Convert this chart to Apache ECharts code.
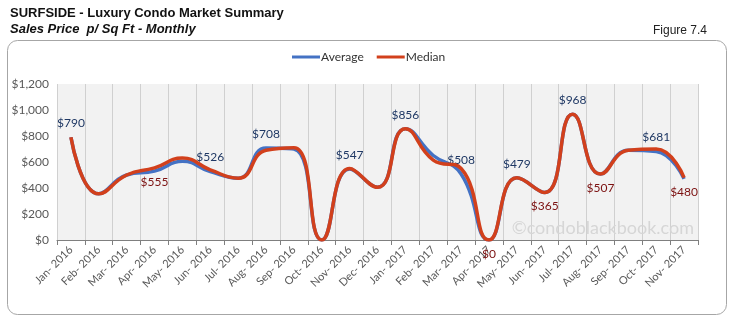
<!DOCTYPE html>
<html>
<head>
<meta charset="utf-8">
<script src="https://cdn.jsdelivr.net/npm/echarts@6/dist/echarts.min.js"></script>
<style>html,body{margin:0;padding:0;background:#fff;}#c{width:743px;height:323px;}</style>
</head>
<body>
<div id="c"></div>
<script>
const categories = ["Jan- 2016","Feb- 2016","Mar- 2016","Apr- 2016","May- 2016","Jun- 2016","Jul- 2016","Aug- 2016","Sep- 2016","Oct- 2016","Nov- 2016","Dec- 2016","Jan- 2017","Feb- 2017","Mar- 2017","Apr- 2017","May- 2017","Jun- 2017","Jul- 2017","Aug- 2017","Sep- 2017","Oct- 2017","Nov- 2017"];
const averageValues = [790,355,500,530,605,526,475,708,700,0,547,405,856,650,508,0,479,365,968,507,690,681,470];
const medianValues  = [790,355,500,555,630,540,475,690,710,0,550,405,856,615,550,0,479,365,968,507,690,700,480];
const averageLabelIdx = [0,5,7,10,12,14,16,18,21];
const medianLabelIdx = [3,15,17,19,22];
const yTicks = [0,200,400,600,800,1000,1200];

const fontF = 'Lato, "Open Sans", sans-serif';
function money(v){ return '$' + v.toString().replace(/\B(?=(\d{3})+(?!\d))/g, ','); }
function makeData(vals, idx, pos, color){
  return vals.map((v,i)=>({
    value:v,
    label: idx.indexOf(i) >= 0 ? {show:true, position:pos, distance:8, color:color, fontSize:12, fontFamily:fontF, formatter:(p)=>money(p.value)} : {show:false}
  }));
}
const chart = echarts.init(document.getElementById('c'), null, {renderer:'canvas'});
chart.setOption({
  animation:false,
  backgroundColor:'#fff',
  grid:{left:57, right:45, top:84, bottom:83, show:true, backgroundColor:'#f2f2f2', borderWidth:0},
  legend:{
    top:46, left:287, itemWidth:28, itemHeight:3, itemGap:13, icon:'rect',
    textStyle:{fontSize:12, color:'#333', fontFamily:fontF, padding:[0,0,0,-4]},
    data:[{name:'Average', itemStyle:{color:'#4472c4', opacity:1}}, {name:'Median', itemStyle:{color:'#d2401c', opacity:1}}]
  },
  graphic:[
    {type:'rect', shape:{x:7.5,y:40.5,width:719,height:274,r:10}, style:{fill:'none', stroke:'#a6a6a6', lineWidth:1}, z:-1},
    {type:'text', left:10, top:7, style:{text:'SURFSIDE - Luxury Condo Market Summary', font:'bold 13px "Liberation Sans", Arial, sans-serif', fill:'#111'}},
    {type:'text', left:10, top:23, style:{text:'Sales Price  p/ Sq Ft - Monthly', font:'italic bold 13px "Liberation Sans", Arial, sans-serif', fill:'#111'}},
    {type:'text', right:36, top:25, style:{text:'Figure 7.4', font:'12px "Liberation Sans", Arial, sans-serif', fill:'#222'}},
    {type:'text', right:49, top:219, style:{text:'©condoblackbook.com', font:'18px Lato, "Open Sans", sans-serif', fill:'#d6d6d6'}, z:1}
  ],
  xAxis:{
    type:'category', data:categories, boundaryGap:true,
    axisLine:{show:true, lineStyle:{color:'#7f7f7f'}},
    axisTick:{show:true, length:5, lineStyle:{color:'#7f7f7f'}, alignWithLabel:false},
    axisLabel:{rotate:45, interval:0, fontSize:11, color:'#595959', fontFamily:fontF, margin:8},
    splitLine:{show:true, interval:0, lineStyle:{color:'#d0d0d0', width:1}}
  },
  yAxis:{
    type:'value', min:0, max:1200, interval:200,
    axisLine:{show:false}, axisTick:{show:false},
    axisLabel:{fontSize:12, color:'#595959', fontFamily:fontF, margin:8, formatter:(v)=> yTicks.indexOf(v)>=0 ? money(v) : ''},
    splitLine:{show:false}
  },
  series:[
    {name:'Average', type:'line', smooth:0.5, symbol:'circle', symbolSize:0.1, showSymbol:true,
     data:makeData(averageValues, averageLabelIdx, 'top', '#1f3864'),
     lineStyle:{color:'#4472c4', width:3.5}, itemStyle:{color:'#4472c4', borderWidth:0}, z:2},
    {name:'Median', type:'line', smooth:0.5, symbol:'circle', symbolSize:0.1, showSymbol:true,
     data:makeData(medianValues, medianLabelIdx, 'bottom', '#7b1010'),
     lineStyle:{color:'#d2401c', width:3.5}, itemStyle:{color:'#d2401c', borderWidth:0}, z:3}
  ]
});
</script>
</body>
</html>
